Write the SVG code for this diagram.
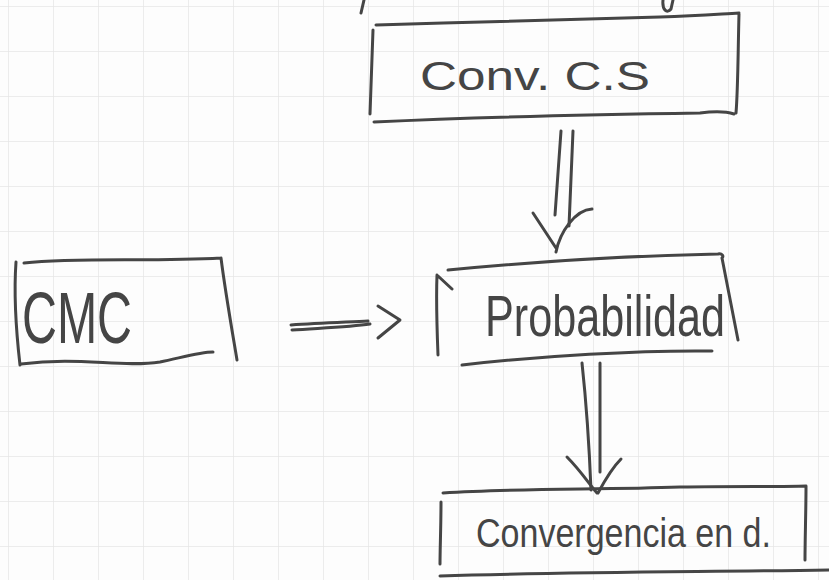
<svg xmlns="http://www.w3.org/2000/svg" width="829" height="580" viewBox="0 0 829 580">
<defs>
<pattern id="grid" width="45" height="45" patternUnits="userSpaceOnUse" x="8" y="6">
<path d="M0 0H45M0 0V45" fill="none" stroke="#e6e6e6" stroke-width="1.5"/>
</pattern>
<style>
.ink{fill:none;stroke:#454545;stroke-width:3;stroke-linecap:round;stroke-linejoin:round}
.lbl{font-family:"Liberation Sans","DejaVu Sans",sans-serif;fill:#454545}
</style>
</defs>
<rect width="829" height="580" fill="#fdfdfd"/>
<rect width="829" height="580" fill="url(#grid)"/>
<g id="fragments" class="ink">
<path d="M364 0 L361 13"/>
<path d="M663 0 C662 10 667 14 671 9 L673 0"/>
</g>
<g id="node-conv-cs">
<path class="ink" d="M376 25 C480 22 600 18 660 17 C700 16 720 14 739 13 M739 14 C738 50 738 90 736 113 M373 30 C372 60 371 90 370 114 M374 122 C460 118 560 115 700 113 C715 111 725 111 734 114"/>
<text class="lbl" x="420" y="90" font-size="40" textLength="230" lengthAdjust="spacingAndGlyphs">Conv.  C.S</text>
</g>
<g id="node-cmc">
<path class="ink" d="M24 263 C80 257 150 262 221 258 M221 258 C225 290 232 330 237 360 M16 262 C14 290 16 330 20 365 M21 364 C80 356 120 368 160 362 C180 358 200 352 213 352"/>
<text class="lbl" x="22" y="343" font-size="72" textLength="110" lengthAdjust="spacingAndGlyphs">CMC</text>
</g>
<g id="node-probabilidad">
<path class="ink" d="M448 270 C530 262 620 256 718 254 C722 253 724 256 722 258 M722 258 C728 290 734 320 738 340 M437 275 C436 300 437 330 438 355 M438 276 L452 289 M462 365 C540 356 640 350 712 351"/>
<text class="lbl" x="485" y="336" font-size="58" textLength="240" lengthAdjust="spacingAndGlyphs">Probabilidad</text>
</g>
<g id="node-convergencia">
<path class="ink" d="M443 493 C520 488 600 490 680 487 C740 486 780 487 806 486 M806 486 C806 510 805 540 805 560 M441 502 C441 525 440 550 440 564 M440 576 C560 572 700 572 829 570"/>
<text class="lbl" x="476" y="547" font-size="40" textLength="295" lengthAdjust="spacingAndGlyphs">Convergencia en d.</text>
</g>
<g id="connectors" class="ink">
<path d="M561 131 L555 215 M573 131 L569 226"/>
<path d="M533 213 L556 248 M556 252 C560 232 575 210 592 209"/>
<path d="M291 325 C320 323 350 322 368 321 M292 330 C320 328 350 327 370 324"/>
<path d="M378 306 L400 320 L378 338"/>
<path d="M582 363 C586 400 589 440 591 490 M600 363 C600 400 600 440 600 472"/>
<path d="M567 457 C580 470 590 485 597 493 M598 493 C605 480 612 468 621 459"/>
</g>
</svg>
